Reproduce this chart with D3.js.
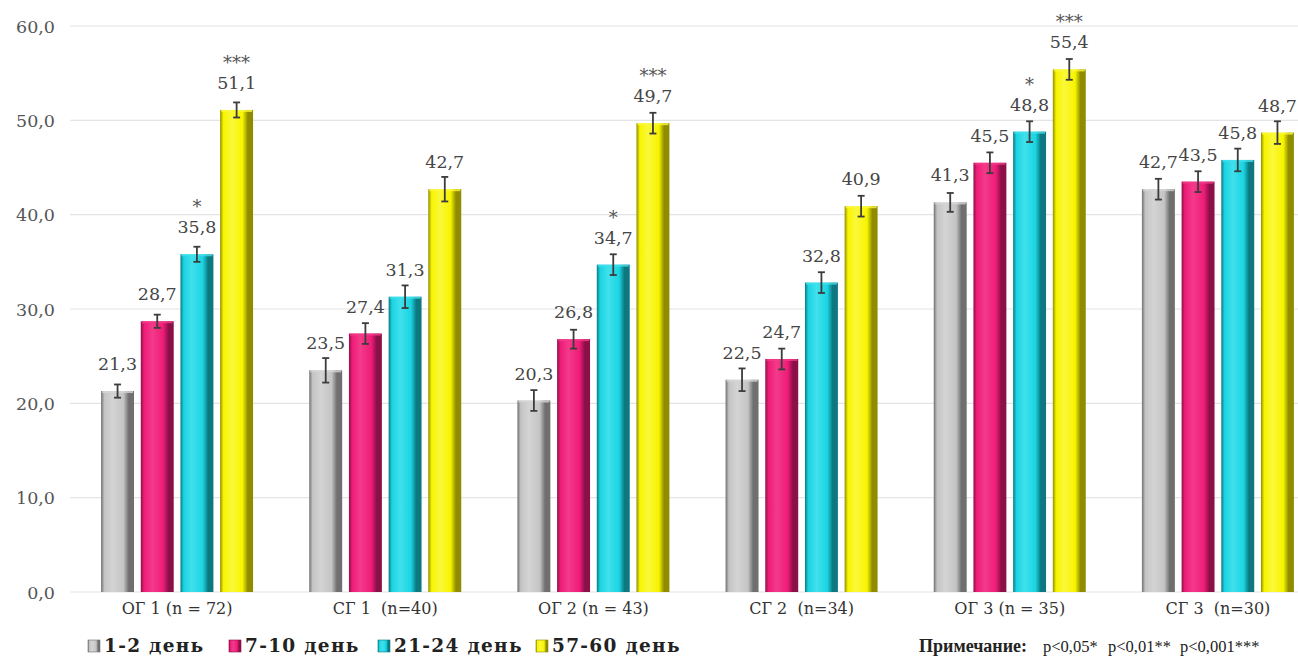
<!DOCTYPE html>
<html>
<head>
<meta charset="utf-8">
<script src="https://cdn.jsdelivr.net/npm/d3@7"></script>
<style>
  html, body { margin: 0; padding: 0; background: #ffffff; }
  svg { display: block; }
</style>
</head>
<body>
<svg id="chart" width="1298" height="661"></svg>
<script>
// Groups and observation periods
const groups = ["ОГ 1 (n = 72)", "СГ 1  (n=40)", "ОГ 2 (n = 43)", "СГ 2  (n=34)", "ОГ 3 (n = 35)", "СГ 3  (n=30)"];
const periods = ["1-2 день", "7-10 день", "21-24 день", "57-60 день"];

// Mean values per period (one array per period, in group order)
const day1_2   = [21.3, 23.5, 20.3, 22.5, 41.3, 42.7];
const day7_10  = [28.7, 27.4, 26.8, 24.7, 45.5, 43.5];
const day21_24 = [35.8, 31.3, 34.7, 32.8, 48.8, 45.8];
const day57_60 = [51.1, 42.7, 49.7, 40.9, 55.4, 48.7];

// Error (± half-width) per period
const err1_2   = [0.7, 1.3, 1.1, 1.2, 1.0, 1.1];
const err7_10  = [0.7, 1.1, 1.0, 1.1, 1.1, 1.1];
const err21_24 = [0.8, 1.2, 1.1, 1.1, 1.1, 1.2];
const err57_60 = [0.8, 1.3, 1.1, 1.1, 1.1, 1.2];

// Significance marks per period
const sig1_2   = ["", "", "", "", "", ""];
const sig7_10  = ["", "", "", "", "", ""];
const sig21_24 = ["*", "", "*", "", "*", ""];
const sig57_60 = ["***", "", "***", "", "***", ""];

const yTicks = [0, 10, 20, 30, 40, 50, 60];
const noteLabel = "Примечание:";
const noteItems = ["p<0,05*", "p<0,01**", "p<0,001***"];

const seriesValues = [day1_2, day7_10, day21_24, day57_60];
const seriesErrors = [err1_2, err7_10, err21_24, err57_60];
const seriesSig = [sig1_2, sig7_10, sig21_24, sig57_60];

const palette = [
  { base: "#c4c4c4", light: "#d4d4d4", dark: "#6f6f6f" },
  { base: "#ee1c78", light: "#f43a8a", dark: "#8c1048" },
  { base: "#1ad4e2", light: "#40e0ec", dark: "#0d7880" },
  { base: "#f7f400", light: "#fbf83a", dark: "#8f8c00" }
];

const fmt = v => v.toFixed(1).replace(".", ",");

const svg = d3.select("#chart");
const defs = svg.append("defs");

// Cylinder-like horizontal shading for bars
palette.forEach((c, i) => {
  const g = defs.append("linearGradient")
    .attr("id", "bar" + i).attr("x1", "0").attr("x2", "1").attr("y1", "0").attr("y2", "0");
  g.append("stop").attr("offset", "0%").attr("stop-color", c.dark);
  g.append("stop").attr("offset", "10%").attr("stop-color", c.base);
  g.append("stop").attr("offset", "35%").attr("stop-color", c.light);
  g.append("stop").attr("offset", "68%").attr("stop-color", c.base);
  g.append("stop").attr("offset", "84%").attr("stop-color", c.dark);
  g.append("stop").attr("offset", "100%").attr("stop-color", c.dark);
});

const x = d3.scaleBand().domain(groups).range([73, 1322]).padding(0);
const xi = d3.scaleBand().domain(d3.range(periods.length)).range([-76, 76]).paddingInner(0.17);
const y = d3.scaleLinear().domain([0, 60]).range([592, 26]);

// Gridlines
svg.append("g").selectAll("line").data(yTicks).join("line")
  .attr("x1", 70).attr("x2", 1298)
  .attr("y1", d => y(d)).attr("y2", d => y(d))
  .attr("stroke", "#e4e4e4").attr("stroke-width", 1.2);

// Y axis tick labels
const yAxis = d3.axisLeft(y).tickValues(yTicks).tickSize(0).tickPadding(0).tickFormat(fmt);
svg.append("g").attr("transform", "translate(55,0)").call(yAxis)
  .call(g => g.select(".domain").remove())
  .call(g => g.selectAll("text")
    .attr("font-family", "DejaVu Serif").attr("font-size", 17.5)
    .attr("fill", "#555").attr("dy", "0.35em"));

// X axis category labels
const xAxis = d3.axisBottom(x).tickSize(0).tickPadding(0);
svg.append("g").attr("transform", "translate(0,599)").call(xAxis)
  .call(g => g.select(".domain").remove())
  .call(g => g.selectAll("text")
    .attr("font-family", "DejaVu Serif").attr("font-size", 16)
    .attr("fill", "#333").attr("dy", "0.95em").style("white-space", "pre"));

// Bars, error bars and value labels
const rows = [];
groups.forEach((grp, gi) => {
  periods.forEach((p, si) => {
    rows.push({ grp, si, v: seriesValues[si][gi], e: seriesErrors[si][gi], s: seriesSig[si][gi] });
  });
});

const bw = xi.bandwidth();
const cx = d => x(d.grp) + x.bandwidth() / 2 + xi(d.si) + bw / 2;

svg.append("g").selectAll("rect").data(rows).join("rect")
  .attr("x", d => cx(d) - bw / 2)
  .attr("width", bw)
  .attr("y", d => y(d.v))
  .attr("height", d => y(0) - y(d.v))
  .attr("fill", d => `url(#bar${d.si})`);

// Top rim of each bar
svg.append("g").selectAll("rect").data(rows).join("rect")
  .attr("x", d => cx(d) - bw / 2 + 1)
  .attr("width", bw - 2)
  .attr("y", d => y(d.v))
  .attr("height", 2)
  .attr("fill", d => palette[d.si].light)
  .attr("opacity", 0.8);

const eb = svg.append("g").attr("stroke", "#3c3c3c").attr("stroke-width", 1.8);
eb.selectAll("line.v").data(rows).join("line").attr("class", "v")
  .attr("x1", cx).attr("x2", cx)
  .attr("y1", d => y(d.v + d.e)).attr("y2", d => y(d.v - d.e));
eb.selectAll("line.t").data(rows).join("line").attr("class", "t")
  .attr("x1", d => cx(d) - 3.5).attr("x2", d => cx(d) + 3.5)
  .attr("y1", d => y(d.v + d.e)).attr("y2", d => y(d.v + d.e));
eb.selectAll("line.b").data(rows).join("line").attr("class", "b")
  .attr("x1", d => cx(d) - 3.5).attr("x2", d => cx(d) + 3.5)
  .attr("y1", d => y(d.v - d.e)).attr("y2", d => y(d.v - d.e));

svg.append("g").selectAll("text").data(rows).join("text")
  .attr("x", cx)
  .attr("y", d => y(d.v) - 21)
  .attr("text-anchor", "middle")
  .attr("font-family", "DejaVu Serif").attr("font-size", 17.5)
  .attr("fill", "#454545")
  .text(d => fmt(d.v));

svg.append("g").selectAll("text").data(rows.filter(d => d.s)).join("text")
  .attr("x", cx)
  .attr("y", d => y(d.v) - 41)
  .attr("text-anchor", "middle")
  .attr("font-family", "DejaVu Serif").attr("font-size", 18)
  .attr("fill", "#555")
  .text(d => d.s);

// Legend
const legendX = [88, 229, 378, 536];
const legend = svg.append("g");
periods.forEach((p, i) => {
  const g = legend.append("g").attr("transform", `translate(${legendX[i]},652)`);
  g.append("rect").attr("x", 0).attr("y", -12).attr("width", 12).attr("height", 12)
    .attr("fill", `url(#bar${i})`).attr("stroke", palette[i].dark).attr("stroke-width", 0.6);
  g.append("text").attr("x", 16).attr("y", 0)
    .attr("font-family", "DejaVu Serif").attr("font-weight", "bold").attr("font-size", 18.5)
    .attr("letter-spacing", 1.3)
    .attr("fill", "#222").text(p);
});

// Significance note
svg.append("text").attr("x", 919).attr("y", 652)
  .attr("font-family", "Liberation Serif").attr("font-weight", "bold").attr("font-size", 18)
  .attr("fill", "#222").text(noteLabel);
const noteX = [1043, 1108, 1180];
svg.append("g").selectAll("text").data(noteItems).join("text")
  .attr("x", (d, i) => noteX[i]).attr("y", 652)
  .attr("font-family", "Liberation Serif").attr("font-size", 16.5)
  .attr("fill", "#222").text(d => d);
</script>
</body>
</html>
